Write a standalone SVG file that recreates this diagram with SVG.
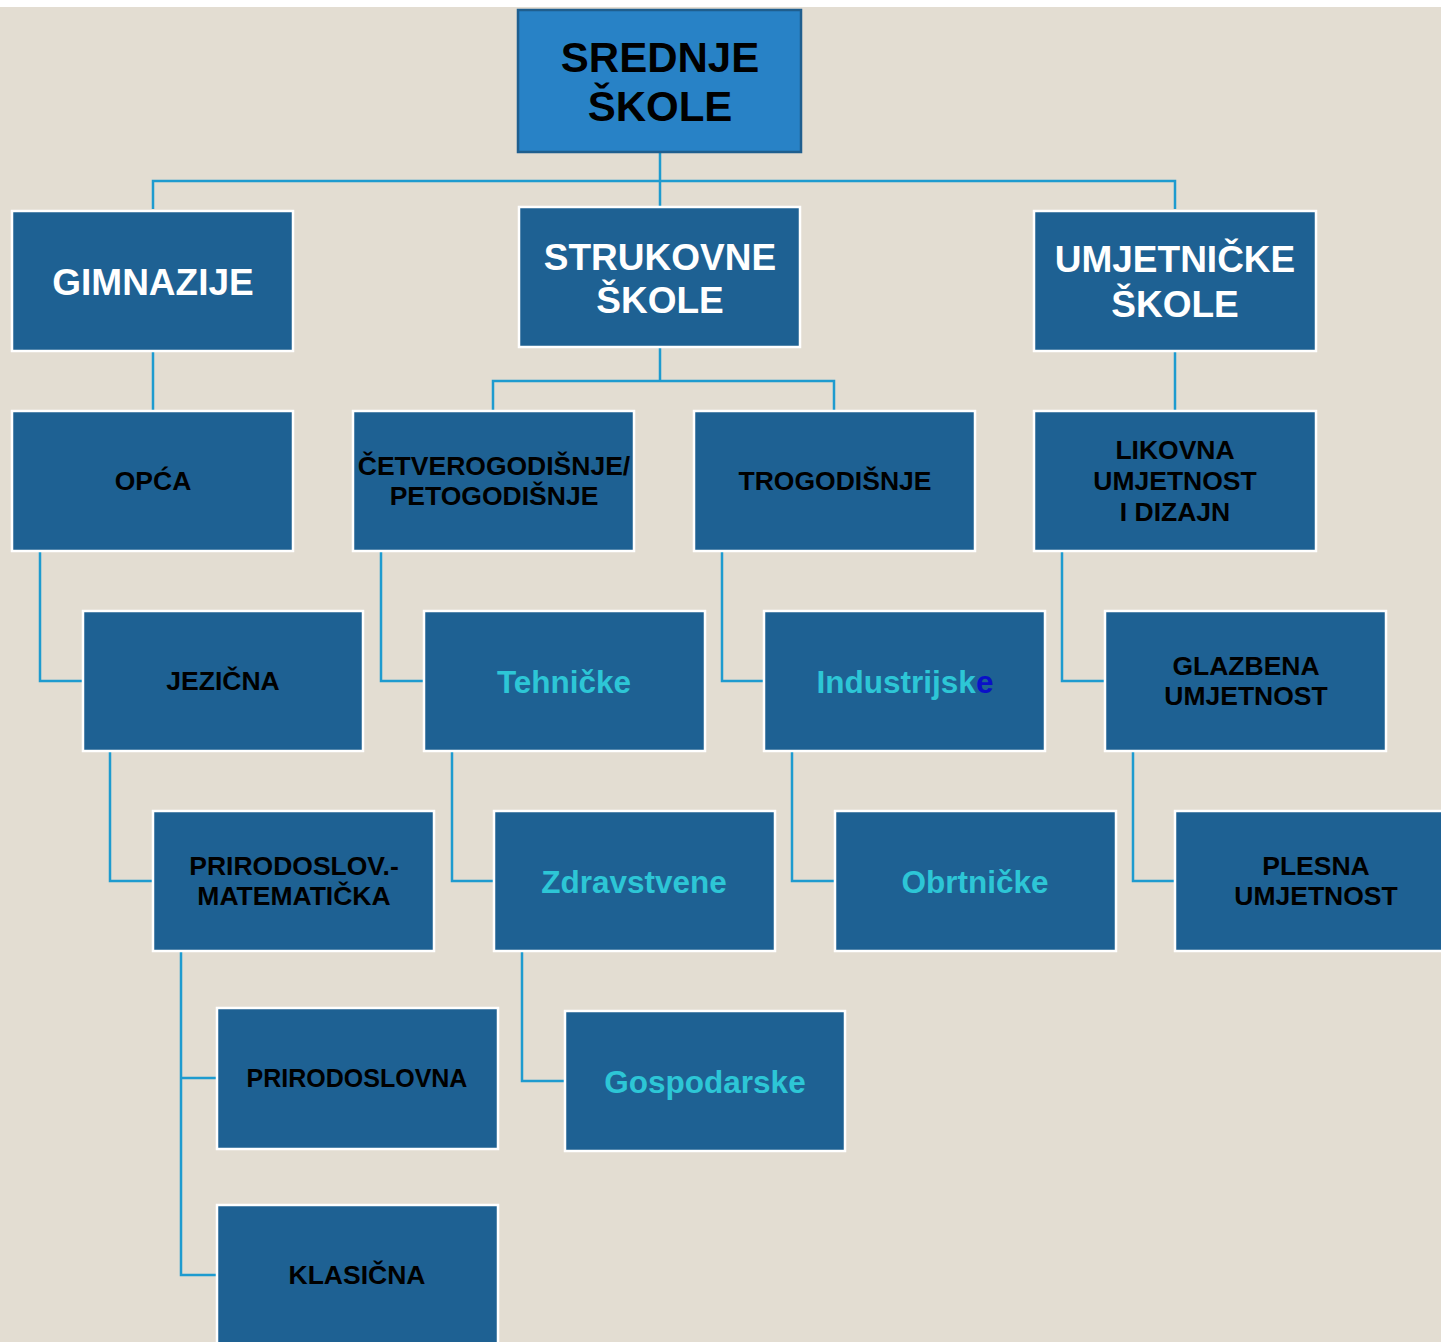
<svg xmlns="http://www.w3.org/2000/svg" width="1441" height="1342" viewBox="0 0 1441 1342">
<style>
.bg{fill:#E3DDD2}
.box{fill:#1E6193;stroke:#FFFFFF;stroke-width:2.5}
.top{fill:#2882C6;stroke:#1F5E8E;stroke-width:2.5}
.con{fill:none;stroke:#1E9BCF;stroke-width:2.5}
text{font-family:"Liberation Sans",Arial,sans-serif;font-weight:bold;text-anchor:middle}
.w{fill:#FFFFFF;font-size:37px}
.k{fill:#000000;font-size:26.5px}
.p{fill:#000000;font-size:25px}
.c{fill:#2DC6D6;font-size:31.5px}
.t{fill:#000000;font-size:42px}
</style>
<rect x="0" y="0" width="1441" height="1342" fill="#FFFFFF"/>
<rect class="bg" x="0" y="7" width="1441" height="1335"/>
<g id="connectors">
<path class="con" d="M660,152 V207 M153,209 V181 H1175 V209"/>
<path class="con" d="M153,351 V411"/>
<path class="con" d="M660,347 V381 M493,411 V381 H834 V411"/>
<path class="con" d="M1175,351 V411"/>
<path class="con" d="M40,551 V681 H83"/>
<path class="con" d="M381,551 V681 H424"/>
<path class="con" d="M722,551 V681 H764"/>
<path class="con" d="M1062,551 V681 H1105"/>
<path class="con" d="M110,751 V881 H153"/>
<path class="con" d="M452,751 V881 H494"/>
<path class="con" d="M792,751 V881 H835"/>
<path class="con" d="M1133,751 V881 H1175"/>
<path class="con" d="M181,951 V1275 H217 M181,1078 H217"/>
<path class="con" d="M522,951 V1081 H565"/>
</g>
<g id="srednje">
<rect class="top" x="518" y="10" width="283" height="142"/>
<text class="t" x="660" y="72">SREDNJE</text>
<text class="t" x="660" y="121">ŠKOLE</text>
</g>
<g id="gimnazije">
<rect class="box" x="12" y="211" width="281" height="140"/>
<text class="w" x="153" y="295">GIMNAZIJE</text>
</g>
<g id="strukovne">
<rect class="box" x="519" y="207" width="281" height="140"/>
<text class="w" x="660" y="270">STRUKOVNE</text>
<text class="w" x="660" y="313">ŠKOLE</text>
</g>
<g id="umjetnicke">
<rect class="box" x="1034" y="211" width="282" height="140"/>
<text class="w" x="1175" y="272">UMJETNIČKE</text>
<text class="w" x="1175" y="317">ŠKOLE</text>
</g>
<g id="opca">
<rect class="box" x="12" y="411" width="281" height="140"/>
<text class="k" x="153" y="490">OPĆA</text>
</g>
<g id="cetverogodisnje">
<rect class="box" x="353" y="411" width="281" height="140"/>
<text class="k" x="494" y="475">ČETVEROGODIŠNJE/</text>
<text class="k" x="494" y="505">PETOGODIŠNJE</text>
</g>
<g id="trogodisnje">
<rect class="box" x="694" y="411" width="281" height="140"/>
<text class="k" x="835" y="490">TROGODIŠNJE</text>
</g>
<g id="likovna">
<rect class="box" x="1034" y="411" width="282" height="140"/>
<text class="k" x="1175" y="459">LIKOVNA</text>
<text class="k" x="1175" y="490">UMJETNOST</text>
<text class="k" x="1175" y="521">I DIZAJN</text>
</g>
<g id="jezicna">
<rect class="box" x="83" y="611" width="280" height="140"/>
<text class="k" x="223" y="690">JEZIČNA</text>
</g>
<g id="tehnicke">
<rect class="box" x="424" y="611" width="281" height="140"/>
<text class="c" x="564" y="693">Tehničke</text>
</g>
<g id="industrijske">
<rect class="box" x="764" y="611" width="281" height="140"/>
<text class="c" x="905" y="693">Industrijsk<tspan fill="#0A10C8">e</tspan></text>
</g>
<g id="glazbena">
<rect class="box" x="1105" y="611" width="281" height="140"/>
<text class="k" x="1246" y="675">GLAZBENA</text>
<text class="k" x="1246" y="705">UMJETNOST</text>
</g>
<g id="prirodoslov-matematicka">
<rect class="box" x="153" y="811" width="281" height="140"/>
<text class="k" x="294" y="875">PRIRODOSLOV.-</text>
<text class="k" x="294" y="905">MATEMATIČKA</text>
</g>
<g id="zdravstvene">
<rect class="box" x="494" y="811" width="281" height="140"/>
<text class="c" x="634" y="893">Zdravstvene</text>
</g>
<g id="obrtnicke">
<rect class="box" x="835" y="811" width="281" height="140"/>
<text class="c" x="975" y="893">Obrtničke</text>
</g>
<g id="plesna">
<rect class="box" x="1175" y="811" width="280" height="140"/>
<text class="k" x="1316" y="875">PLESNA</text>
<text class="k" x="1316" y="905">UMJETNOST</text>
</g>
<g id="prirodoslovna">
<rect class="box" x="217" y="1008" width="281" height="141"/>
<text class="p" x="357" y="1087">PRIRODOSLOVNA</text>
</g>
<g id="gospodarske">
<rect class="box" x="565" y="1011" width="280" height="140"/>
<text class="c" x="705" y="1093">Gospodarske</text>
</g>
<g id="klasicna">
<rect class="box" x="217" y="1205" width="281" height="150"/>
<text class="k" x="357" y="1284">KLASIČNA</text>
</g>
</svg>
